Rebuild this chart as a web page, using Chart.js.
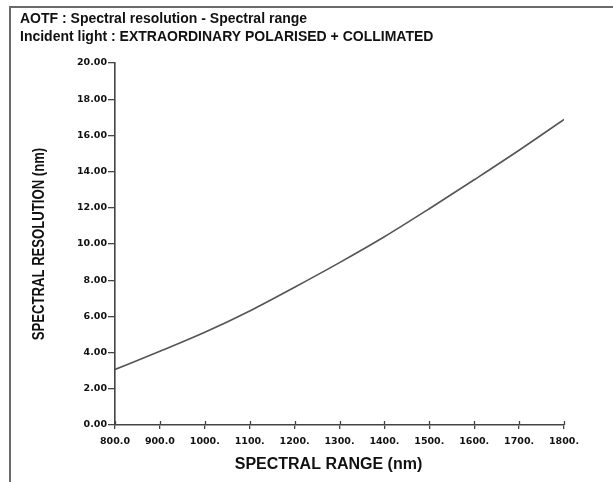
<!DOCTYPE html>
<html>
<head>
<meta charset="utf-8">
<script src="https://cdn.jsdelivr.net/npm/chart.js@4/dist/chart.umd.min.js"></script>
<style>
  html, body { margin: 0; padding: 0; background: #fff; }
  #wrap { position: relative; width: 613px; height: 482px; overflow: hidden; }
  #frame { position: absolute; left: 9px; top: 6px; width: 640px; height: 520px;
           border-top: 2px solid #6a6a6a; border-left: 2px solid #6a6a6a; pointer-events: none; }
  canvas { position: absolute; left: 0; top: 0; }
</style>
</head>
<body>
<div id="wrap">
  <canvas id="c" width="613" height="482"></canvas>
  <div id="frame"></div>
</div>
<script>
// ---- data ----
const titleLines = [
  "AOTF : Spectral resolution - Spectral range",
  "Incident light : EXTRAORDINARY POLARISED + COLLIMATED"
];
const xAxisTitle = "SPECTRAL RANGE (nm)";
const yAxisTitle = "SPECTRAL RESOLUTION (nm)";
const wavelengths = [800, 900, 1000, 1100, 1200, 1300, 1400, 1500, 1600, 1700, 1800];
const spectralResolution = [3.07, 4.07, 5.12, 6.30, 7.61, 8.97, 10.40, 11.95, 13.55, 15.18, 16.88];
const xTickValues = [800, 900, 1000, 1100, 1200, 1300, 1400, 1500, 1600, 1700, 1800];
const xTickLabels = ["800.0", "900.0", "1000.", "1100.", "1200.", "1300.", "1400.", "1500.", "1600.", "1700.", "1800."];
const yTickValues = [0, 2, 4, 6, 8, 10, 12, 14, 16, 18, 20];
const yTickLabels = ["0.00", "2.00", "4.00", "6.00", "8.00", "10.00", "12.00", "14.00", "16.00", "18.00", "20.00"];

const ink = "#111";
const axisColor = "#444";
const tickFont = { family: "'DejaVu Sans'", size: 9.5, weight: "bold" };

const textPlugin = {
  id: "texts",
  afterDraw(chart) {
    const ctx = chart.ctx;
    const ca = chart.chartArea;
    ctx.save();
    ctx.fillStyle = ink;
    // header
    ctx.font = "bold 14px 'Liberation Sans'";
    ctx.textBaseline = "alphabetic";
    ctx.textAlign = "left";
    ctx.fillText(titleLines[0], 20, 23);
    ctx.fillText(titleLines[1], 20, 41);
    // x axis title
    ctx.font = "bold 16px 'Liberation Sans'";
    ctx.textAlign = "center";
    ctx.textBaseline = "middle";
    ctx.fillText(xAxisTitle, (ca.left + ca.right) / 2 - 11, 465);
    // y axis title (rotated, slightly compressed along its length)
    ctx.translate(40, (ca.top + ca.bottom) / 2);
    ctx.rotate(-Math.PI / 2);
    ctx.scale(0.82, 1);
    ctx.fillText(yAxisTitle, 0, 0);
    ctx.restore();

    // crossing part of x ticks
    const xs = chart.scales.x;
    ctx.save();
    ctx.strokeStyle = axisColor;
    ctx.lineWidth = 1.3;
    xTickValues.forEach(v => {
      const px = Math.round(xs.getPixelForValue(v)) + 0.5;
      ctx.beginPath();
      ctx.moveTo(px, ca.bottom - 4);
      ctx.lineTo(px, ca.bottom);
      ctx.stroke();
    });
    ctx.restore();
  }
};

new Chart(document.getElementById("c"), {
  type: "line",
  data: {
    datasets: [{
      data: wavelengths.map((w, i) => ({ x: w, y: spectralResolution[i] })),
      borderColor: "#555",
      borderWidth: 1.6,
      pointRadius: 0,
      fill: false,
      cubicInterpolationMode: "monotone"
    }]
  },
  options: {
    responsive: false,
    animation: false,
    devicePixelRatio: 1,
    layout: { padding: { top: 63, right: 49, bottom: 0, left: 0 } },
    plugins: { legend: { display: false }, tooltip: { enabled: false }, title: { display: false } },
    scales: {
      x: {
        type: "linear",
        min: 800, max: 1800,
        afterFit(s) { s.height = 57; },
        afterBuildTicks(s) { s.ticks = xTickValues.map(v => ({ value: v })); },
        ticks: {
          color: ink, font: tickFont, padding: 7, maxRotation: 0, autoSkip: false,
          callback(v) { const i = xTickValues.indexOf(v); return i >= 0 ? xTickLabels[i] : ""; }
        },
        grid: { drawOnChartArea: false, color: axisColor, tickLength: 4, lineWidth: 1.3 },
        border: { display: true, color: axisColor, width: 1.6 },
        title: { display: false }
      },
      y: {
        type: "linear",
        min: 0, max: 20,
        afterFit(s) { s.width = 115; },
        afterBuildTicks(s) { s.ticks = yTickValues.map(v => ({ value: v })); },
        ticks: {
          color: ink, font: tickFont, padding: 1, autoSkip: false,
          callback(v) { const i = yTickValues.indexOf(v); return i >= 0 ? yTickLabels[i] : ""; }
        },
        grid: { drawOnChartArea: false, color: axisColor, tickLength: 7, lineWidth: 1.3 },
        border: { display: true, color: axisColor, width: 1.6 },
        title: { display: false }
      }
    }
  },
  plugins: [textPlugin]
});
</script>
</body>
</html>
